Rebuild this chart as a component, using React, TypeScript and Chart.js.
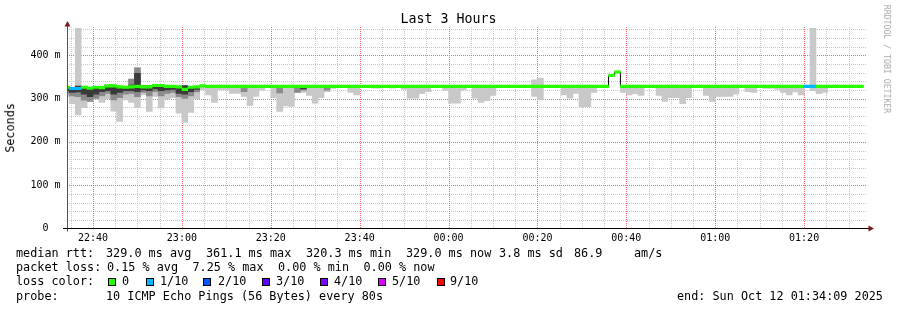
import React, { useEffect, useRef } from "react";
import { Chart, registerables } from "chart.js";

Chart.register(...registerables);

// ---------- data ----------
const TITLE = "Last 3 Hours";
const Y_TITLE = "Seconds";
const WATERMARK = "RRDTOOL / TOBI OETIKER";
const BASE_HOUR = 22; // x values are minutes counted from 22:00
const RANGE_START = "22:34:09";
const RANGE_END = "01:34:09";
const FIRST_STEP = "22:33:20";
const STEP_SECONDS = 80;
const Y_MAX_MS = 465;
const Y_GRID_MS = 20;
const Y_LABEL_MS = 100;
const X_GRID_MIN = 5;
const X_LABEL_MIN = 20;

// median rtt (ms) per 80 s step
const medianMs: number[] = [
  326, 323, 323, 326, 324, 326, 325, 329, 329, 327,
  326, 327, 328, 327, 327, 330, 330, 328, 328, 327,
  321, 326, 327, 329, 328, 328, 328, 328, 328, 328,
  328, 328, 328, 328, 328, 328, 328, 328, 328, 328,
  328, 328, 328, 328, 328, 328, 328, 328, 328, 328,
  328, 328, 328, 328, 328, 328, 328, 328, 328, 328,
  328, 328, 328, 328, 328, 328, 328, 328, 328, 328,
  328, 328, 328, 328, 328, 328, 328, 328, 328, 328,
  328, 328, 328, 328, 328, 328, 328, 328, 328, 328,
  328, 328, 353, 361.1, 328, 328, 328, 328, 328, 328,
  328, 328, 328, 328, 328, 328, 328, 328, 328, 328,
  328, 328, 328, 328, 328, 328, 328, 328, 328, 328,
  328, 328, 328, 328, 328, 328, 328, 328, 328, 328,
  328, 328, 328, 328, 328,
];

// lost pings out of 10 per step
const lossTenths: number[] = [
  0, 1, 1, 0, 0, 0, 0, 0, 0, 0,
  0, 0, 0, 0, 0, 0, 0, 0, 0, 0,
  0, 0, 0, 0, 0, 0, 0, 0, 0, 0,
  0, 0, 0, 0, 0, 0, 0, 0, 0, 0,
  0, 0, 0, 0, 0, 0, 0, 0, 0, 0,
  0, 0, 0, 0, 0, 0, 0, 0, 0, 0,
  0, 0, 0, 0, 0, 0, 0, 0, 0, 0,
  0, 0, 0, 0, 0, 0, 0, 0, 0, 0,
  0, 0, 0, 0, 0, 0, 0, 0, 0, 0,
  0, 0, 0, 0, 0, 0, 0, 0, 0, 0,
  0, 0, 0, 0, 0, 0, 0, 0, 0, 0,
  0, 0, 0, 0, 0, 0, 0, 0, 0, 0,
  0, 0, 0, 0, 0, 1, 1, 0, 0, 0,
  0, 0, 0, 0, 0,
];

// smoke: [step, lowest ms, highest ms]
const outerSmoke: [number, number, number][] = [
  [0, 304, 328], [1, 288, 325], [2, 262, 462], [3, 279, 328], [4, 294, 326], [5, 299, 328], [6, 291, 327], [7, 299, 331], [8, 271, 331], [9, 247, 329],
  [10, 297, 328], [11, 291, 345], [12, 279, 371], [13, 308, 329], [14, 270, 329], [15, 305, 332], [16, 278, 332], [17, 299, 330], [18, 302, 330], [19, 266, 329],
  [20, 245, 330], [21, 268, 328], [22, 299, 329], [23, 320, 331], [24, 308, 330], [25, 291, 330], [26, 320, 330], [27, 320, 330], [28, 312, 330], [29, 312, 330],
  [30, 305, 330], [31, 284, 330], [32, 305, 330], [33, 319, 330], [35, 302, 330], [36, 270, 330], [37, 283, 330], [38, 282, 330], [39, 314, 330],
  [40, 314, 330], [41, 307, 330], [42, 289, 330], [43, 302, 330], [44, 316, 330], [45, 323, 330], [48, 314, 330], [49, 308, 330],
  [52, 324, 330], [53, 324, 330], [55, 324, 330], [57, 321, 330], [58, 301, 330], [59, 301, 330],
  [60, 311, 330], [61, 316, 330], [64, 319, 330], [65, 289, 330], [66, 289, 330], [67, 319, 330], [69, 301, 330],
  [70, 291, 330], [71, 295, 330], [72, 307, 330], [79, 305, 343],
  [80, 297, 347], [84, 308, 330], [85, 301, 330], [86, 312, 330], [87, 281, 330], [88, 281, 330], [89, 314, 330],
  [94, 314, 330], [95, 308, 330], [96, 311, 330], [97, 307, 330],
  [100, 307, 330], [101, 293, 330], [102, 302, 330], [103, 302, 330], [104, 288, 330], [105, 302, 330], [108, 307, 330], [109, 293, 330],
  [110, 305, 330], [111, 305, 330], [112, 305, 330], [113, 310, 331], [115, 316, 330], [116, 314, 331], [118, 323, 330], [119, 323, 330],
  [120, 321, 330], [121, 314, 330], [122, 308, 330], [123, 315, 330], [124, 308, 330], [126, 318, 462], [127, 311, 330], [128, 314, 330],
];

const midSmoke: [number, number, number][] = [
  [0, 312, 328], [1, 306, 325], [2, 304, 330], [3, 296, 328], [4, 293, 326], [5, 300, 327], [6, 306, 327], [7, 312, 330], [8, 297, 330], [9, 302, 328],
  [10, 310, 328], [11, 312, 345], [12, 304, 371], [13, 314, 329], [14, 306, 329], [15, 316, 331], [16, 306, 331], [17, 312, 329], [18, 314, 329], [19, 304, 328],
  [20, 300, 330], [21, 306, 327], [22, 315, 328], [30, 316, 329], [36, 313, 329], [39, 314, 329], [40, 319, 329], [44, 319, 329],
];

const coreSmoke: [number, number, number][] = [
  [0, 318, 327], [1, 314, 324], [2, 315, 328], [3, 310, 328], [4, 304, 325], [5, 310, 327], [6, 316, 327], [7, 318, 330], [8, 310, 330], [9, 314, 328],
  [10, 318, 328], [11, 318, 331], [12, 316, 358], [13, 320, 329], [14, 318, 329], [15, 322, 331], [16, 318, 331], [17, 320, 329], [18, 321, 329], [19, 312, 328],
  [20, 310, 330], [21, 316, 327], [22, 321, 328], [40, 322, 329],
];

const lossLevels = [0, 1, 2, 3, 4, 5, 9];
const lossColors = ["#26ff00", "#00b8ff", "#0059ff", "#5e00ff", "#7e00ff", "#dd00ff", "#ff0000"];
const lossLabels = ["0", "1/10", "2/10", "3/10", "4/10", "5/10", "9/10"];

const rttLabel = "median rtt:";
const rttStats = ["329.0 ms avg", "361.1 ms max", "320.3 ms min", "329.0 ms now", "3.8 ms sd", "86.9", "am/s"];
const lossLabel = "packet loss:";
const lossStats = ["0.15 % avg", "7.25 % max", "0.00 % min", "0.00 % now"];
const colorLabel = "loss color:";
const probeLabel = "probe:";
const probeText = "10 ICMP Echo Pings (56 Bytes) every 80s";
const endText = "end: Sun Oct 12 01:34:09 2025";

// ---------- layout / style ----------
const W = 897;
const H = 310;
const PLOT_LEFT = 67;
const PLOT_RIGHT = 867;
const PLOT_TOP = 27;
const PLOT_BOTTOM = 228.5;
const MONO = '"DejaVu Sans Mono", monospace';
const MINOR = "rgb(200,200,200)";
const MAJOR = "rgb(248,105,105)";

const toMinutes = (hms: string) => {
  const [h, m, s] = hms.split(":").map(Number);
  let t = h * 60 + m + s / 60 - BASE_HOUR * 60;
  if (t < 0) t += 1440;
  return t;
};
const fmtTime = (v: number) => {
  const tot = Math.round(BASE_HOUR * 60 + v) % 1440;
  const hh = Math.floor(tot / 60);
  const mm = tot % 60;
  return `${String(hh).padStart(2, "0")}:${String(mm).padStart(2, "0")}`;
};
const colorFor = (loss: number) => {
  let c = lossColors[0];
  lossLevels.forEach((lv, i) => {
    if (loss >= lv) c = lossColors[i];
  });
  return c;
};
const isMajorX = (v: number) => Math.abs(Math.round(v) % X_LABEL_MIN) === 0;
const isMajorY = (v: number) => Math.abs(Math.round(v) % Y_LABEL_MS) === 0;

// dotted rrdtool-style grid, drawn from the chart's own scales
const gridPlugin = {
  id: "rrdGrid",
  beforeDatasetsDraw(chart: any) {
    const { ctx, chartArea: a, scales } = chart;
    ctx.save();
    ctx.lineWidth = 1;
    ctx.setLineDash([1, 1]);
    const draw = (major: boolean) => {
      ctx.strokeStyle = major ? MAJOR : MINOR;
      ctx.beginPath();
      scales.x.ticks.forEach((t: any) => {
        if (isMajorX(t.value) !== major) return;
        const px = Math.round(scales.x.getPixelForValue(t.value)) + 0.5;
        ctx.moveTo(px, Math.floor(a.bottom));
        ctx.lineTo(px, a.top);
      });
      scales.y.ticks.forEach((t: any) => {
        if (t.value === 0 || isMajorY(t.value) !== major) return;
        const py = Math.round(scales.y.getPixelForValue(t.value)) + 0.5;
        ctx.moveTo(a.left, py);
        ctx.lineTo(a.right, py);
      });
      ctx.stroke();
    };
    draw(false);
    draw(true);
    ctx.restore();
  },
  afterDatasetsDraw(chart: any) {
    const { ctx, chartArea: a } = chart;
    ctx.save();
    ctx.lineWidth = 1;
    ctx.strokeStyle = "#555";
    ctx.beginPath();
    ctx.moveTo(a.left + 0.5, a.bottom + 3);
    ctx.lineTo(a.left + 0.5, a.top - 1);
    ctx.stroke();
    ctx.strokeStyle = "#000";
    ctx.beginPath();
    ctx.moveTo(a.left - 4, Math.floor(a.bottom) + 0.5);
    ctx.lineTo(a.right + 2, Math.floor(a.bottom) + 0.5);
    ctx.stroke();
    ctx.fillStyle = "#7f1818";
    ctx.beginPath();
    ctx.moveTo(a.left + 0.5, a.top - 6);
    ctx.lineTo(a.left - 2.5, a.top - 0.5);
    ctx.lineTo(a.left + 3.5, a.top - 0.5);
    ctx.closePath();
    ctx.fill();
    const yb = Math.floor(a.bottom) + 0.5;
    ctx.beginPath();
    ctx.moveTo(a.right + 7, yb);
    ctx.lineTo(a.right + 1.5, yb - 3);
    ctx.lineTo(a.right + 1.5, yb + 3);
    ctx.closePath();
    ctx.fill();
    ctx.restore();
  },
};

export default function App() {
  const ref = useRef<HTMLCanvasElement>(null);

  useEffect(() => {
    const stepMin = STEP_SECONDS / 60;
    const t0 = toMinutes(FIRST_STEP);
    const xMin = toMinutes(RANGE_START);
    const xMax = toMinutes(RANGE_END);
    const mid = (j: number) => t0 + (j + 0.5) * stepMin;
    const half = (1.25 * Y_MAX_MS) / (PLOT_BOTTOM - PLOT_TOP);

    const xTickValues: number[] = [];
    for (let v = Math.ceil(xMin / X_GRID_MIN) * X_GRID_MIN; v <= xMax; v += X_GRID_MIN) xTickValues.push(v);
    const yTickValues: number[] = [];
    for (let v = 0; v <= Y_MAX_MS; v += Y_GRID_MS) yTickValues.push(v);

    const barCommon = {
      type: "bar" as const,
      grouped: false,
      barPercentage: 1,
      categoryPercentage: 1,
      borderWidth: 0,
      clip: 0,
    };
    const smoke = (rows: [number, number, number][]) =>
      rows.map(([j, lo, hi]) => ({ x: mid(j), y: [lo, hi] }));

    const linePts = medianMs.map((m, j) => ({ x: t0 + j * stepMin, y: m }));
    linePts.push({ x: t0 + medianMs.length * stepMin, y: medianMs[medianMs.length - 1] });

    const chart = new Chart(ref.current as HTMLCanvasElement, {
      type: "bar",
      data: {
        datasets: [
          {
            ...barCommon,
            order: 0,
            data: medianMs.map((m, j) => ({ x: mid(j), y: [m - half, m + half] })),
            backgroundColor: medianMs.map((_, j) => colorFor(lossTenths[j])),
          } as any,
          {
            type: "line",
            order: 1,
            data: linePts,
            stepped: true,
            borderColor: "#000",
            borderWidth: 1,
            pointRadius: 0,
            fill: false,
            clip: 0,
          } as any,
          { ...barCommon, order: 2, data: smoke(coreSmoke), backgroundColor: "#3a3a3a" } as any,
          { ...barCommon, order: 3, data: smoke(midSmoke), backgroundColor: "#8a8a8a" } as any,
          { ...barCommon, order: 4, data: smoke(outerSmoke), backgroundColor: "#c8c8c8" } as any,
        ],
      },
      options: {
        animation: false,
        responsive: false,
        events: [],
        layout: {
          autoPadding: false,
          padding: { left: 0, right: W - PLOT_RIGHT, top: PLOT_TOP, bottom: 0 },
        },
        plugins: {
          legend: { display: false },
          tooltip: { enabled: false },
          title: { display: false },
        },
        scales: {
          x: {
            type: "linear",
            min: xMin,
            max: xMax,
            offset: false,
            grid: { display: false, offset: false, drawTicks: false },
            border: { display: false },
            ticks: {
              autoSkip: false,
              maxRotation: 0,
              minRotation: 0,
              padding: 4,
              color: "#000",
              font: { family: MONO, size: 10 },
              callback: (v: any) => (isMajorX(v) ? fmtTime(v) : ""),
            },
            afterBuildTicks: (s: any) => {
              s.ticks = xTickValues.map((value) => ({ value }));
            },
            afterFit: (s: any) => {
              s.height = H - PLOT_BOTTOM;
            },
          },
          y: {
            type: "linear",
            min: 0,
            max: Y_MAX_MS,
            grid: { display: false, drawTicks: false },
            border: { display: false },
            ticks: {
              autoSkip: false,
              padding: 6.5,
              color: "#000",
              font: { family: MONO, size: 10 },
              callback: (v: any) => (isMajorY(v) ? (v === 0 ? "0  " : `${v} m`) : ""),
            },
            afterBuildTicks: (s: any) => {
              s.ticks = yTickValues.map((value) => ({ value }));
            },
            afterFit: (s: any) => {
              s.width = PLOT_LEFT;
            },
          },
        },
      },
      plugins: [gridPlugin],
    } as any);
    return () => chart.destroy();
  }, []);

  const LEG = 11.8;
  const text = (x: number, cy: number, s: string, size = LEG, extra: any = {}) => (
    <div
      key={`${x}-${cy}-${s}`}
      style={{
        position: "absolute",
        left: x,
        top: cy - size * 0.5,
        fontFamily: MONO,
        fontSize: size,
        lineHeight: `${size}px`,
        whiteSpace: "pre",
        color: "#000",
        ...extra,
      }}
    >
      {s}
    </div>
  );
  const rotated = (cx: number, cy: number, s: string, size: number, deg: number, color: string) => (
    <div
      style={{
        position: "absolute",
        left: cx - 100,
        top: cy - size / 2,
        width: 200,
        height: size,
        textAlign: "center",
        fontFamily: MONO,
        fontSize: size,
        lineHeight: `${size}px`,
        whiteSpace: "pre",
        color,
        transform: `rotate(${deg}deg)`,
      }}
    >
      {s}
    </div>
  );

  const rttX = [106, 206, 306, 406, 499, 574, 634];
  const lossX = [107, 192.5, 278, 363.5];
  const sqX = [108, 146, 203, 262, 320, 378, 437];
  const sqLabelX = [122, 160, 218, 276, 334, 392, 450];
  const rows = [254.3, 268.3, 282.3, 296.7];

  return (
    <div style={{ position: "fixed", left: 0, top: 0, width: W, height: H, background: "#fff", overflow: "hidden" }}>
      <canvas ref={ref} width={W} height={H} style={{ position: "absolute", left: 0, top: 0 }} />
      <div
        style={{
          position: "absolute",
          left: 0,
          width: W,
          top: 19 - 13.3 * 0.5,
          textAlign: "center",
          fontFamily: MONO,
          fontSize: 13.3,
          lineHeight: "13.3px",
          color: "#000",
        }}
      >
        {TITLE}
      </div>
      {rotated(11, 127.5, Y_TITLE, LEG, -90, "#000")}
      {rotated(887, 59, WATERMARK, 8.2, 90, "#a8a8a8")}
      {text(16, rows[0], rttLabel)}
      {rttStats.map((s, i) => text(rttX[i], rows[0], s))}
      {text(16, rows[1], lossLabel)}
      {lossStats.map((s, i) => text(lossX[i], rows[1], s))}
      {text(16, rows[2], colorLabel)}
      {lossColors.map((c, i) => (
        <div
          key={`sq${i}`}
          style={{
            position: "absolute",
            left: sqX[i],
            top: 278,
            width: 8,
            height: 8,
            boxSizing: "border-box",
            border: "1px solid #000",
            background: c,
          }}
        />
      ))}
      {lossLabels.map((s, i) => text(sqLabelX[i], rows[2], s))}
      {text(16, rows[3], probeLabel)}
      {text(106, rows[3], probeText)}
      {text(677, rows[3], endText)}
    </div>
  );
}
